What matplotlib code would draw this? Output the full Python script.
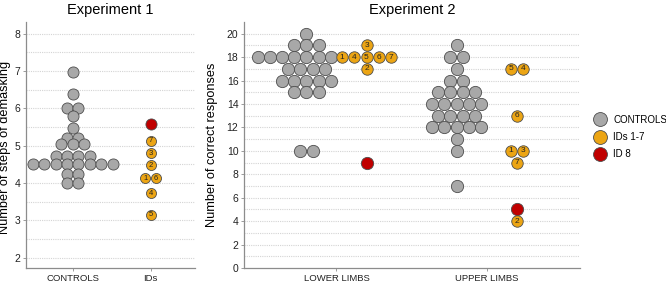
import numpy as np
import matplotlib.pyplot as plt
from matplotlib.lines import Line2D

plt.rcParams["font.family"] = ["Liberation Sans", "DejaVu Sans"]

# ---- data ----
exp1_controls = [6.96, 6.38, 6.0, 6.0, 5.78, 5.48, 5.19, 5.19, 5.04, 5.04, 5.04,
                 4.73, 4.73, 4.73, 4.73, 4.5, 4.5, 4.5, 4.5, 4.5, 4.5, 4.5, 4.5,
                 4.25, 4.25, 4.0, 4.0]
exp1_ids = [4.125, 4.47, 4.79, 3.72, 3.15, 4.125, 5.125]   # IDs 1-7
exp1_id8 = 5.57

lower_controls = [20, 19, 19, 19, 18, 18, 18, 18, 18, 18, 18, 17, 17, 17, 17,
                  16, 16, 16, 16, 16, 15, 15, 15, 10, 10]
upper_controls = [19, 18, 18, 17, 16, 16, 15, 15, 15, 15, 14, 14, 14, 14, 14,
                  13, 13, 13, 13, 12, 12, 12, 12, 12, 11, 10, 7]
lower_ids = [18, 17, 19, 18, 18, 18, 18]   # IDs 1-7
upper_ids = [10, 4, 10, 17, 17, 13, 9]     # IDs 1-7
lower_id8 = 9
upper_id8 = 5

GREY = "#a8a8a8"
ORANGE = "#eca514"
RED = "#c00000"
EDGE = "#4d4d4d"
GRID = "#d4d4d4"


def swarm(values, center, d, max_right=None):
    """Put equal values side by side, centred; optional cap on the right side."""
    values = np.asarray(values, float)
    xs = np.zeros(len(values))
    for v in np.unique(values):
        idx = np.where(values == v)[0]
        n = len(idx)
        if n % 2:
            cand = [0] + [s * k for k in range(1, 40) for s in (1, -1)]
        else:
            cand = [s * (k - 0.5) for k in range(1, 40) for s in (-1, 1)]
        if max_right is not None:
            cand = [c for c in cand if c <= max_right]
        offs = sorted(cand[:n])
        xs[idx] = center + np.array(offs) * d
    return xs


def id_points(ax, xs, ys, labels, s, fs):
    ax.scatter(xs, ys, s=s, color=ORANGE, edgecolor=EDGE, lw=0.6, zorder=3)
    for x, y, t in zip(xs, ys, labels):
        ax.text(x, y, t, ha="center", va="center", fontsize=fs, color="#222222",
                zorder=4)


def style(ax):
    for sp in ["top", "right"]:
        ax.spines[sp].set_visible(False)
    for sp in ["left", "bottom"]:
        ax.spines[sp].set_color("#8c8c8c")
        ax.spines[sp].set_linewidth(0.9)
    ax.tick_params(axis="both", length=2, width=0.6, color="#8c8c8c",
                   labelsize=7.5, pad=2, labelcolor="#222222")
    ax.tick_params(axis="x", labelsize=6.8, pad=2.5)


W, H = 666, 284
fig = plt.figure(figsize=(W / 100, H / 100), dpi=100)

top, bot = 22, 268
ax1 = fig.add_axes([26 / W, (H - bot) / H, (195 - 26) / W, (bot - top) / H])
ax2 = fig.add_axes([244 / W, (H - bot) / H, (580 - 244) / W, (bot - top) / H])

# ---- Experiment 1 ----
ax1.set_xlim(-0.6, 1.57)
ax1.set_ylim(1.72, 8.31)
d1 = 11.4 / (169 / 2.17)
for y in np.arange(2, 8.01, 0.5):
    ax1.axhline(y, color=GRID, lw=0.8, ls=(0, (1, 1)), zorder=0)
ax1.scatter(swarm(exp1_controls, 0, d1), exp1_controls, s=64, color=GREY,
            edgecolor=EDGE, lw=0.6, zorder=3)
ax1.scatter([1], [exp1_id8], s=64, color=RED, edgecolor=EDGE, lw=0.6, zorder=3)
id_points(ax1, swarm(exp1_ids, 1, d1 * 0.92), exp1_ids,
          [str(i) for i in range(1, 8)], 52, 5.5)
ax1.set_xticks([0, 1])
ax1.set_xticklabels(["CONTROLS", "IDs"])
ax1.set_yticks(range(2, 9))
ax1.set_ylabel("Number of steps of demasking", fontsize=9.2)
ax1.yaxis.set_label_coords(-0.09, 0.49)
ax1.set_title("Experiment 1", fontsize=10.5, pad=6)
style(ax1)

# ---- Experiment 2 ----
ax2.set_xlim(-0.616, 1.622)
ax2.set_ylim(0, 21.0)
d2 = 12.2 / (336 / 2.238)
for y in range(1, 21):
    ax2.axhline(y, color=GRID, lw=0.8, ls=(0, (1, 1)), zorder=0)
off = 0.2
ax2.scatter(swarm(lower_controls, -off, d2, max_right=2), lower_controls, s=78,
            color=GREY, edgecolor=EDGE, lw=0.6, zorder=3)
ax2.scatter(swarm(upper_controls, 1 - off, d2), upper_controls, s=78,
            color=GREY, edgecolor=EDGE, lw=0.6, zorder=3)
ids_lbl = [str(i) for i in range(1, 8)]
lx = swarm(lower_ids, off, d2)
# order within a row follows the reference: 1 4 5 6 7 on the 18 row
row18 = [i for i, v in enumerate(lower_ids) if v == 18]
order = [0, 3, 4, 5, 6]
for pos, i in zip(sorted(lx[row18]), order):
    lx[i] = pos
id_points(ax2, lx, lower_ids, ids_lbl, 68, 6)
ux = swarm(upper_ids, 1 + off, d2)
# 5 left of 4 on the 17 row
ux[4], ux[3] = sorted([ux[3], ux[4]])
id_points(ax2, ux, upper_ids, ids_lbl, 68, 6)
ax2.scatter([off, 1 + off], [lower_id8, upper_id8], s=78, color=RED,
            edgecolor=EDGE, lw=0.6, zorder=3)
ax2.set_xticks([0, 1])
ax2.set_xticklabels(["LOWER LIMBS", "UPPER LIMBS"])
ax2.set_yticks(range(0, 21, 2))
ax2.set_ylabel("Number of correct responses", fontsize=9.2)
ax2.yaxis.set_label_coords(-0.077, 0.5)
ax2.set_title("Experiment 2", fontsize=10.5, pad=6)
style(ax2)

handles = [Line2D([], [], ls="", marker="o", ms=10, mfc=c, mec=EDGE, mew=0.6)
           for c in (GREY, ORANGE, RED)]
fig.legend(handles, ["CONTROLS", "IDs 1-7", "ID 8"], loc="center left",
           bbox_to_anchor=(588 / W, 1 - 137 / H), frameon=False, fontsize=7,
           handletextpad=0.6, labelspacing=0.75, borderpad=0, handlelength=1.5)

fig.savefig("out.png", dpi=100)
